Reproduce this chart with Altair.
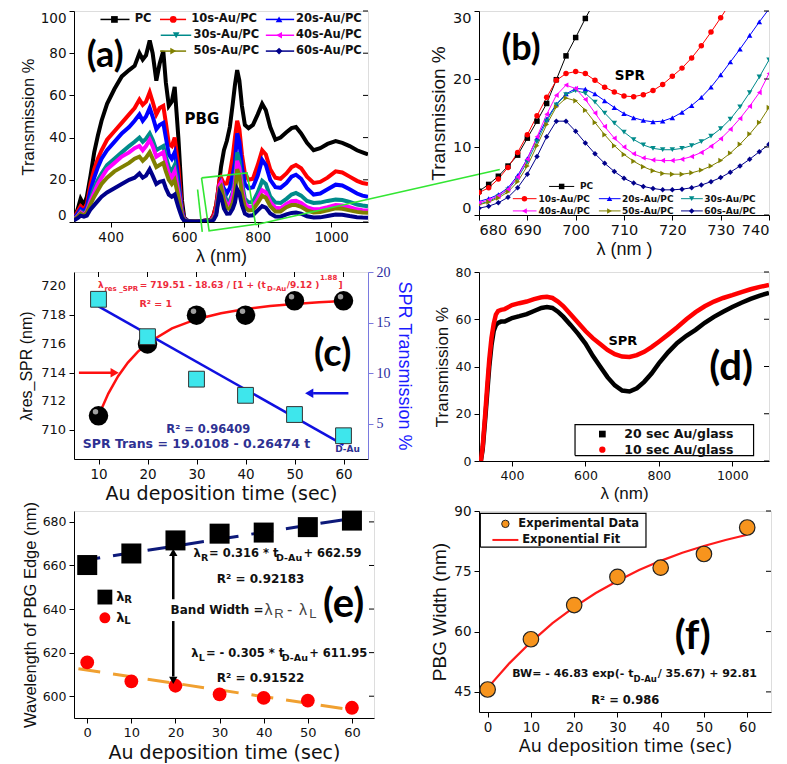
import altair as alt
import pandas as pd

# ---------------- series definitions ----------------
SERIES = ["PC", "10s-Au/PC", "20s-Au/PC", "30s-Au/PC", "40s-Au/PC", "50s-Au/PC", "60s-Au/PC"]
SERIES_COLORS = ["#000000", "#ff0000", "#0000ff", "#008b8b", "#ff00ff", "#808000", "#00008b"]
SERIES_SHAPES = ["square", "circle", "triangle-up", "triangle-down", "triangle-left", "triangle-right", "diamond"]

# ---------------- (a) full spectra ----------------
a_lam = [300, 310, 318, 327, 335, 345, 355, 365, 375, 390, 410, 430, 450, 465, 478, 487, 496, 506, 514, 524,
         533, 543, 550, 558, 566, 574, 579, 584, 589, 594, 600, 610, 630, 650, 665,
         672, 680, 687, 696, 700, 708, 716, 724, 732, 738, 744, 750, 757, 765, 775, 787, 800, 812, 822, 834,
         848, 862, 878, 892, 904, 918, 934, 952, 970, 990, 1012, 1030, 1050, 1070, 1085, 1100]
a_pc = [1.5, 6, 11, 8, 12, 22, 33, 41, 48, 56, 63, 69, 72, 74, 80, 77, 79, 86, 80, 67, 75, 81, 66, 55, 57, 64, 52, 40, 25, 10, 2, 0.5, 0.3, 0.5, 1.0,
        1.0, 3.5, 8.2, 20, 26, 34, 38.5, 45, 56, 65, 72, 67, 55, 46, 44.5, 46, 51, 56, 53, 45, 39, 40, 42.5, 44.5, 45, 42, 37.5, 34, 35, 37, 38.3, 37.5, 36, 34, 33, 32]
a_10 = [1.5, 5, 7.5, 6, 8.5, 18, 25, 30, 34, 39, 43, 47, 51, 54, 58, 55.5, 57, 61.5, 57, 51, 54, 55, 47, 37, 36, 40, 33, 26, 15, 6, 1.5, 0.5, 0.3, 0.5, 0.8,
        0.6, 3.3, 8.1, 19.8, 21.1, 18.1, 18.3, 23.1, 31.2, 40, 48, 44, 32, 23, 20, 20.5, 27, 34, 32, 25, 21, 20.5, 23, 26, 27, 25.5, 21.5, 18.5, 19, 21, 24, 23.5, 21.5, 19.5, 18.5, 18]
a_20 = [1.3, 4, 6, 5, 7, 15, 21, 26, 30, 34, 38, 42, 45, 48, 51, 48, 50, 54, 50, 44, 46, 47, 40, 32, 30, 33, 27, 20, 12, 5, 1.2, 0.5, 0.3, 0.5, 0.7,
        0.5, 2.0, 4.9, 16.3, 18.6, 15.8, 13.7, 16.1, 22.5, 28.4, 42, 38, 26, 18, 16, 16.5, 22, 29.5, 27, 20, 16.5, 16.2, 18.5, 21.5, 22.4, 20.5, 16, 13, 13.5, 15.5, 17.7, 17.3, 15.5, 13.5, 12.5, 12]
a_30 = [1.2, 3, 5, 4, 5.5, 11, 16, 20, 23, 27, 30, 33, 36, 38, 40, 38, 39.5, 42, 39, 34, 35, 36, 31, 26, 24, 27, 22, 16, 10, 4, 1.0, 0.5, 0.3, 0.4, 0.6,
        0.4, 1.6, 4.5, 16.2, 18.3, 13.5, 9.8, 10.2, 14.1, 20.3, 33, 29, 19, 11, 9.3, 9.5, 14, 19.5, 18, 12, 9.2, 9, 11, 13, 13.8, 12.5, 10, 9, 9.2, 10, 10.6, 10.4, 9.5, 8.3, 7.8, 7.5]
a_40 = [1.1, 2.7, 4.5, 3.5, 5, 10, 14, 18, 21, 25, 28, 31, 33, 35, 36, 34, 36, 39, 36, 31, 32, 33, 28, 23, 21, 24, 19, 14, 9, 3.5, 0.9, 0.4, 0.3, 0.4, 0.6,
        0.4, 1.8, 4.7, 17.6, 18.6, 11.3, 8.1, 8.6, 12.6, 18.0, 29, 25.5, 16, 9, 7, 7.3, 11, 15, 14, 9.5, 6.7, 6.5, 8.5, 9.8, 10, 9, 7, 6, 6.2, 7, 8, 7.8, 7, 6, 5.6, 5.5]
a_50 = [1.0, 2.4, 4, 3, 4.5, 8.5, 12, 15, 18, 21, 24, 26, 28, 30, 31, 29, 30.5, 33, 30, 26, 27, 28, 24, 20, 18, 20, 16, 12, 7.5, 3, 0.8, 0.4, 0.3, 0.4, 0.5,
        0.3, 1.5, 4.1, 15.9, 16.8, 10.2, 6.5, 6.2, 9.1, 13.6, 25, 22, 13.5, 7, 5.5, 5.7, 9, 12.5, 11.5, 7.5, 5, 5, 7, 8, 8, 7.2, 5.5, 4.5, 4.7, 5.5, 6.5, 6.3, 5.5, 4.8, 4.5, 4.4]
a_60 = [0.8, 1.8, 3, 2.5, 3, 6, 8, 10, 12, 14, 16, 18, 20, 21, 23, 21, 22, 25, 22, 18, 19, 19.5, 16, 13, 12, 13, 10, 7, 4.5, 2, 0.6, 0.3, 0.2, 0.3, 0.4,
        0.2, 1.0, 3.3, 13.8, 12.3, 6.4, 3.9, 4.0, 6.3, 9.3, 15.5, 13.5, 8, 4, 3, 3.2, 5.5, 7.5, 6.8, 4, 2.6, 2.5, 3.6, 4.3, 4.5, 3.9, 2.7, 2.1, 2.2, 2.8, 3.5, 3.4, 2.8, 2.3, 2.1, 2.0]

# ---------------- (b) zoom on SPR ----------------
b_lam = list(range(680, 741, 2))
b_pc = [3.5, 4.5, 5.7, 7.2, 8.8, 11.3, 13.8, 16.4, 19.9, 23.4, 26.1, 28.9, 31.5] + [None] * 18
b_10 = [3.3, 4.0, 5.3, 7.0, 9.2, 11.8, 14.6, 17.3, 19.8, 20.8, 21.1, 20.8, 19.8, 18.8, 18.1, 17.5, 17.4, 17.7, 18.3,
        19.2, 20.4, 21.6, 23.1, 24.9, 26.9, 29.0, 31.2] + [None] * 4
b_20 = [2.0, 2.4, 3.0, 4.0, 5.8, 8.3, 11.3, 14.1, 16.3, 17.8, 18.6, 18.5, 17.8, 16.8, 15.8, 14.9, 14.3, 13.9, 13.7,
        13.8, 14.3, 15.1, 16.1, 17.3, 18.8, 20.6, 22.5, 24.4, 26.4, 28.4, 30.3]
b_30 = [1.6, 2.0, 2.7, 3.7, 5.4, 7.8, 10.8, 13.8, 16.2, 17.7, 18.3, 17.9, 16.6, 15.0, 13.5, 12.2, 11.1, 10.3, 9.8,
        9.6, 9.6, 9.8, 10.2, 10.8, 11.6, 12.7, 14.1, 15.9, 18.0, 20.3, 22.8]
b_40 = [1.8, 2.2, 2.8, 3.8, 5.6, 8.2, 11.5, 14.8, 17.6, 19.1, 18.6, 17.0, 15.0, 13.0, 11.3, 10.0, 9.0, 8.4, 8.1,
        8.0, 8.0, 8.2, 8.6, 9.2, 10.1, 11.2, 12.6, 14.2, 16.0, 18.0, 20.8]
b_50 = [1.5, 1.9, 2.5, 3.4, 4.9, 7.2, 10.2, 13.3, 15.9, 17.2, 16.8, 15.4, 13.6, 11.8, 10.2, 8.9, 7.9, 7.1, 6.5,
        6.1, 6.0, 6.0, 6.2, 6.6, 7.2, 8.0, 9.1, 10.4, 11.9, 13.6, 15.8]
b_60 = [1.0, 1.3, 1.8, 2.6, 4.0, 6.0, 8.6, 11.5, 13.8, 13.8, 12.3, 10.6, 9.0, 7.6, 6.4, 5.4, 4.7, 4.2, 3.9,
        3.7, 3.7, 3.8, 4.0, 4.4, 4.9, 5.5, 6.3, 7.2, 8.2, 9.3, 10.4]

# ---------------- (c) SPR resonance vs time ----------------
c_time = [10, 20, 30, 40, 50, 60]
c_lam_res = [711, 716, 718, 718, 719, 719]
c_spr_trans = [17.3, 13.6, 9.4, 7.8, 5.9, 3.8]
c_fit_t = [10, 12, 14, 16, 18, 20, 25, 30, 35, 40, 45, 50, 55, 60]
c_fit_lam = [711.0, 712.55, 713.76, 714.7, 715.45, 716.05, 717.08, 717.72, 718.13, 718.42, 718.63, 718.78, 718.9, 718.99]
c_lin_t = [10, 60]
c_lin_trans = [16.6, 2.9]
c_left_ticks = [710, 712, 714, 716, 718, 720]

# ---------------- (d) Au/glass spectra ----------------
d_lam = [315, 320, 327, 333, 338, 344, 350, 356, 362, 370, 380, 400, 420, 440, 460, 480, 495, 510, 525, 540, 560,
         580, 600, 620, 640, 660, 680, 700, 720, 740, 760, 780, 800, 825, 850, 875, 900, 925, 950, 975, 1000,
         1025, 1050, 1075, 1100]
d_10s = [0, 6, 20, 33, 43, 52, 58, 62, 63.5, 64, 64.3, 66, 66.8, 67.5, 68.5, 69.3, 69.5, 69, 67.5, 65.5, 62,
         58.5, 55, 52, 49.5, 47, 45.2, 44.2, 44.0, 44.8, 46.2, 48.2, 50.5, 53.5, 56.6, 60, 63, 65.5, 67.5, 69,
         70.2, 71.5, 72.7, 73.7, 74.5]
d_20s = [0, 5, 18, 30, 40, 49, 55, 57.5, 58.5, 59, 59, 60.5, 61.3, 62.2, 63.5, 64.8, 65.2, 64.8, 63.2, 61, 57.5,
         53.8, 49.7, 44.5, 40, 35.5, 32, 29.8, 29.4, 30.8, 33.5, 37, 41.3, 46, 50, 53, 55.5, 58.5, 61, 63.2,
         65.2, 67, 68.6, 70, 71.2]

# ---------------- (e) PBG edges ----------------
e_time = [0, 10, 20, 30, 40, 50, 60]
e_lam_r = [660.2, 665.5, 671.5, 674.6, 675.1, 677.6, 680.6]
e_lam_l = [615.5, 606.8, 604.8, 600.8, 599.2, 598.0, 594.7]
e_fit_t = [-2, 61]
e_fit_r = [662.0, 681.9]
e_fit_l = [612.6, 593.4]

# ---------------- (f) PBG width ----------------
f_time = [0, 10, 20, 30, 40, 50, 60]
f_width = [45.6, 58.1, 66.6, 73.6, 75.9, 79.3, 85.9]
f_fit_t = [0, 5, 10, 15, 20, 25, 30, 35, 40, 45, 50, 55, 60]
f_fit_w = [46.0, 52.1, 57.4, 62.1, 66.1, 69.6, 72.6, 75.3, 77.6, 79.6, 81.3, 82.8, 84.1]

# ---------------- layout ----------------
WA, HA = 294, 211
WB, HB = 290, 204
WC, HC = 294, 187
WD, HD = 290, 189
WE, HE = 300, 207
WF, HF = 292, 201
COL_SP, ROW_SP = 105, 50
TICK = 5

FB = "DejaVu Sans"
FL = "Liberation Sans"
FTAG = "Lato"
GREEN = "#33e633"


def sc(d0, d1):
    return alt.Scale(domain=[d0, d1], nice=False, zero=False)


def ax(lab_font, lab_size, tit_font, tit_size, **kw):
    base = dict(grid=False, domainColor="#000", domainWidth=1, tickColor="#000", tickWidth=1, tickSize=TICK,
                labelColor="#111", titleColor="#111", labelFont=lab_font, labelFontSize=lab_size,
                titleFont=tit_font, titleFontSize=tit_size, titleFontWeight="normal", labelPadding=3,
                labelOverlap=False, labelSeparation=0, format="d")
    base.update(kw)
    return alt.Axis(**base)


def txt(xs, ys, labels, sx, sy, **kw):
    d = pd.DataFrame({"x": xs, "y": ys, "t": labels})
    return alt.Chart(d).mark_text(**kw).encode(
        x=alt.X("x:Q", scale=sx), y=alt.Y("y:Q", scale=sy), text="t:N")


def seg(x1, y1, x2, y2, sx, sy, **kw):
    d = pd.DataFrame({"x": x1, "y": y1, "x2": x2, "y2": y2})
    return alt.Chart(d).mark_rule(**kw).encode(
        x=alt.X("x:Q", scale=sx), y=alt.Y("y:Q", scale=sy), x2="x2:Q", y2="y2:Q")


def pts(xs, ys, sx, sy, **kw):
    d = pd.DataFrame({"x": xs, "y": ys})
    return alt.Chart(d).mark_point(**kw).encode(
        x=alt.X("x:Q", scale=sx), y=alt.Y("y:Q", scale=sy))


def box(x1, x2, y1, y2, sx, sy):
    d = pd.DataFrame({"x": [x1, x2, x2, x1, x1], "y": [y1, y1, y2, y2, y1], "o": [0, 1, 2, 3, 4]})
    return alt.Chart(d).mark_line(color="#000", strokeWidth=1.2).encode(
        x=alt.X("x:Q", scale=sx), y=alt.Y("y:Q", scale=sy), order="o:Q")


def right_ticks(dom_x, w, yvals, sx, sy):
    x0 = dom_x[1] - (dom_x[1] - dom_x[0]) * TICK / w
    return seg([x0] * len(yvals), yvals, [dom_x[1]] * len(yvals), yvals, sx, sy, color="#000", strokeWidth=1)


def top_ticks(dom_y, h, xvals, sx, sy):
    y0 = dom_y[1] - (dom_y[1] - dom_y[0]) * TICK / h
    return seg(xvals, [y0] * len(xvals), xvals, [dom_y[1]] * len(xvals), sx, sy, color="#000", strokeWidth=1)


COLOR = alt.Color("s:N", scale=alt.Scale(domain=SERIES, range=SERIES_COLORS), legend=None)
SHAPE = alt.Shape("s:N", scale=alt.Scale(domain=SERIES, range=SERIES_SHAPES), legend=None)


def series_legend(sx, sy, ys, x1, x2, xm, xt, font_size, sym_size, lw):
    d = pd.DataFrame({"s": SERIES, "y": ys, "x1": x1, "x2": x2, "xm": xm, "xt": xt})
    base = alt.Chart(d)
    r = base.mark_rule(strokeWidth=lw).encode(
        x=alt.X("x1:Q", scale=sx), x2="x2:Q", y=alt.Y("y:Q", scale=sy), color=COLOR)
    p = base.mark_point(filled=True, size=sym_size, opacity=1).encode(
        x=alt.X("xm:Q", scale=sx), y=alt.Y("y:Q", scale=sy), color=COLOR, shape=SHAPE)
    t = base.mark_text(align="left", baseline="middle", font=FB, fontWeight="bold", fontSize=font_size,
                       color="#111").encode(
        x=alt.X("xt:Q", scale=sx), y=alt.Y("y:Q", scale=sy), text="s:N")
    return [r, p, t]


# ================= panel (a) =================
DXA, DYA = [300, 1100], [0, 100]
SXA, SYA = sc(*DXA), sc(*DYA)
a_yticks = [0, 20, 40, 60, 80, 100]
a_all = [a_pc, a_10, a_20, a_30, a_40, a_50, a_60]
dfa = pd.concat([pd.DataFrame({"x": a_lam, "y": v, "s": n}) for n, v in zip(SERIES, a_all)])
lines_a = alt.Chart(dfa).mark_line(strokeWidth=4, clip=True).encode(
    x=alt.X("x:Q", scale=SXA, axis=ax(FB, 13.5, FL, 18, values=[400, 600, 800, 1000], title="λ (nm)")),
    y=alt.Y("y:Q", scale=SYA, axis=ax(FB, 13.5, FL, 16.5, values=a_yticks, title="Transmission %",
                                         labelFlush=True)),
    color=COLOR)

leg_a = series_legend(SXA, SYA, [96, 96, 96, 88.5, 88.5, 81, 81],
                      [372, 534, 822, 536, 822, 534, 822], [451, 605, 899, 619, 899, 605, 899],
                      [410, 570, 858, 578, 858, 570, 858], [465, 619, 904, 625, 904, 625, 904], 11.5, 45, 1.5)

gbox = pd.DataFrame({"x": [647, 771, 794, 667.6, 647], "y": [20.9, 23.3, -1.1, -4.2, 20.9], "o": [0, 1, 2, 3, 4]})
green_box = alt.Chart(gbox).mark_line(color=GREEN, strokeWidth=1.6).encode(
    x=alt.X("x:Q", scale=SXA), y=alt.Y("y:Q", scale=SYA), order="o:Q")
# end of connector: point (684.3, 6.7) of panel (b), expressed in panel (a) coordinates
col1_w = max(WA, WC, WE)
end_px_x = col1_w + COL_SP + (684.3 - 680) / 60 * WB
end_px_y = (30 - 6.7) / 30 * HB
end_lam = 300 + end_px_x / WA * 800
end_T = 100 - end_px_y / HA * 100
green_lines = seg([636.3, 794], [15.4, -1.3], [649, end_lam], [-4.7, end_T], SXA, SYA, color=GREEN, strokeWidth=1.6)

tag_a = txt([385], [78.9], ["(a)"], SXA, SYA, font=FTAG, fontWeight="bold", fontSize=36)
pbg = txt([648], [48.9], ["PBG"], SXA, SYA, font=FB, fontWeight="bold", fontSize=15)

pa = alt.layer(lines_a, right_ticks(DXA, WA, a_yticks, SXA, SYA), green_box, green_lines, *leg_a,
               tag_a, pbg).properties(width=WA, height=HA)

# ================= panel (b) =================
DXB, DYB = [680, 740], [0, 30]
SXB, SYB = sc(*DXB), sc(*DYB)
b_yticks = [0, 10, 20, 30]
b_all = [b_pc, b_10, b_20, b_30, b_40, b_50, b_60]
dfb = pd.concat([pd.DataFrame({"x": b_lam, "y": v, "s": n}) for n, v in zip(SERIES, b_all)]).dropna()
lines_b = alt.Chart(dfb).mark_line(strokeWidth=1, clip=True).encode(
    x=alt.X("x:Q", scale=SXB, axis=ax(FB, 14.5, FL, 18, values=list(range(680, 741, 10)), title="λ (nm )")),
    y=alt.Y("y:Q", scale=SYB, axis=ax(FB, 14.5, FL, 19, values=b_yticks, title="Transmission %",
                                         labelFlush=True)),
    color=COLOR)
marks_b = alt.Chart(dfb).mark_point(filled=True, size=30, opacity=1, clip=True).encode(
    x=alt.X("x:Q", scale=SXB), y=alt.Y("y:Q", scale=SYB), color=COLOR, shape=SHAPE)
leg_b = series_legend(SXB, SYB, [4.2, 2.4, 2.4, 2.4, 0.6, 0.6, 0.6],
                      [694.5, 687.0, 704.8, 721.8, 687.0, 704.8, 721.8],
                      [699.7, 691.9, 709.3, 726.3, 691.9, 709.3, 726.3],
                      [697.1, 689.4, 707.0, 724.0, 689.4, 707.0, 724.0],
                      [700.9, 692.3, 709.6, 726.6, 692.3, 709.6, 726.6], 9, 30, 1)
tag_b = txt([688.7], [24.4], ["(b)"], SXB, SYB, font=FTAG, fontWeight="bold", fontSize=36)
spr_b = txt([711.2], [20.5], ["SPR"], SXB, SYB, font=FB, fontWeight="bold", fontSize=13.5)
pb = alt.layer(lines_b, marks_b, right_ticks(DXB, WB, b_yticks, SXB, SYB), *leg_b, tag_b,
               spr_b).properties(width=WB, height=HB)

# ================= panel (c) =================
DXC, DYC1 = [5, 65], [708, 721]
SXC, SYC1, SYC2 = sc(*DXC), sc(*DYC1), sc(1.5, 20)
RED_T = "#ee2a3a"
BLUE_T = "#2e3192"
c_axis_left = ax(FB, 13, FL, 16, values=c_left_ticks, title="λres_SPR (nm)", labels=False, titlePadding=34)
c_axis_x = ax(FB, 13.5, FB, 19, values=c_time, title="Au deposition time (sec)")
c_fit = alt.Chart(pd.DataFrame({"x": c_fit_t, "y": c_fit_lam})).mark_line(color="#ff1010", strokeWidth=2.5).encode(
    x=alt.X("x:Q", scale=SXC, axis=c_axis_x),
    y=alt.Y("y:Q", scale=SYC1, axis=c_axis_left))
# tick labels of the left axis, placed just outside the axis line (tick + padding)
c_lab_x = 5 - (TICK + 3) / (WC / 60)
c_left_labels = txt([c_lab_x] * len(c_left_ticks), c_left_ticks, [str(v) for v in c_left_ticks], SXC, SYC1,
                    align="right", baseline="middle", font=FB, fontSize=13, color="#111")
c_balls = pts(c_time, c_lam_res, SXC, SYC1, filled=True, size=380, color="#000", opacity=1, shape="circle")
c_ball_hi = pts(c_time, c_lam_res, SXC, SYC1, filled=True, size=30, color="#b0b0b0", opacity=0.9, shape="circle",
                xOffset=-3, yOffset=-4)
c_red_txt = [
    txt([9.9, 18.4, 48.4, 59.0], [720.1] * 4, ["λ", "= 719.51 - 18.63 / [1 + (t", "/9.12 )", "]"], SXC, SYC1,
        align="left", font=FB, fontWeight="bold", fontSize=9, color=RED_T),
    txt([11.2, 44.4], [719.8, 719.8], ["res _SPR", "D-Au"], SXC, SYC1, align="left", font=FB, fontWeight="bold",
        fontSize=7, color=RED_T),
    txt([55.2], [720.6], ["1.88"], SXC, SYC1, align="left", font=FB, fontWeight="bold", fontSize=7, color=RED_T),
    txt([21.7], [718.8], ["R² = 1"], SXC, SYC1, font=FB, fontWeight="bold", fontSize=9.5, color=RED_T),
]
c_red_arrow = seg([6.0], [714], [12.6], [714], SXC, SYC1, color="#ff1010", strokeWidth=2.5)
c_red_head = pts([13.3], [714], SXC, SYC1, filled=True, size=90, color="#ff1010", opacity=1, shape="triangle-right")
tag_c = txt([57.8], [715.2], ["(c)"], SXC, SYC1, font=FTAG, fontWeight="bold", fontSize=38)
left_c = alt.layer(c_fit, c_left_labels, top_ticks(DYC1, HC, c_time, SXC, SYC1), c_balls, c_ball_hi,
                   *c_red_txt, c_red_arrow, c_red_head, tag_c)

c_lin = alt.Chart(pd.DataFrame({"x": c_lin_t, "y": c_lin_trans})).mark_line(color="#1010e0", strokeWidth=2.5).encode(
    x=alt.X("x:Q", scale=SXC),
    y=alt.Y("y:Q", scale=SYC2, axis=ax("Liberation Serif", 14, FL, 18, values=[5, 10, 15, 20],
                                          title="SPR Transmission %", orient="right", titleColor="#1a1aff",
                                          labelColor="#2a2aa0", domainColor="#7a7adf", tickColor="#7a7adf")))
c_sq = pts(c_time, c_spr_trans, SXC, SYC2, filled=True, size=250, color="#3ee6ec", stroke="#333",
           strokeWidth=1, opacity=1, shape="square")
c_blue_txt = [
    txt([32.4], [4.4], ["R² = 0.96409"], SXC, SYC2, font=FB, fontWeight="bold", fontSize=11.5, color=BLUE_T),
    txt([6.8], [3.0], ["SPR Trans = 19.0108 - 0.26474 t"], SXC, SYC2, align="left", font=FB, fontWeight="bold",
        fontSize=12.5, color=BLUE_T),
    txt([58.3], [2.5], ["D-Au"], SXC, SYC2, align="left", font=FB, fontWeight="bold", fontSize=9, color=BLUE_T),
]
c_blue_arrow = seg([53.8], [8.0], [61.0], [8.0], SXC, SYC2, color="#1010e0", strokeWidth=2.5)
c_blue_head = pts([53.0], [8.0], SXC, SYC2, filled=True, size=90, color="#1010e0", opacity=1, shape="triangle-left")
right_c = alt.layer(c_lin, c_sq, *c_blue_txt, c_blue_arrow, c_blue_head)
pc = alt.layer(left_c, right_c).resolve_scale(y="independent").properties(width=WC, height=HC)

# ================= panel (d) =================
DXD, DYD = [310, 1100], [0, 80]
SXD, SYD = sc(*DXD), sc(*DYD)
d_yticks = [0, 20, 40, 60, 80]
dfd = pd.concat([pd.DataFrame({"x": d_lam, "y": d_20s, "s": "20 sec Au/glass"}),
                 pd.DataFrame({"x": d_lam, "y": d_10s, "s": "10 sec Au/glass"})])
lines_d = alt.Chart(dfd).mark_line(strokeWidth=4.5, clip=True).encode(
    x=alt.X("x:Q", scale=SXD, axis=ax(FB, 12.5, FL, 17, values=[400, 600, 800, 1000], title="λ (nm)")),
    y=alt.Y("y:Q", scale=SYD, axis=ax(FB, 12.5, FL, 17, values=d_yticks, title="Transmission %")),
    color=alt.Color("s:N", scale=alt.Scale(domain=["20 sec Au/glass", "10 sec Au/glass"], range=["#000000", "#ff0000"]),
                    legend=None))
leg_d = [
    box(571.6, 1058, 2.3, 15.4, SXD, SYD),
    pts([646], [11.4], SXD, SYD, filled=True, size=45, color="#000", opacity=1, shape="square"),
    pts([646], [4.8], SXD, SYD, filled=True, size=40, color="#ff0000", opacity=1, shape="circle"),
    txt([706, 706], [11.4, 4.8], ["20 sec Au/glass", "10 sec Au/glass"], SXD, SYD, align="left", font=FB,
        fontWeight="bold", fontSize=12.5, color="#111"),
]
spr_d = txt([702], [50.8], ["SPR"], SXD, SYD, font=FB, fontWeight="bold", fontSize=13)
tag_d = txt([996.7], [39.4], ["(d)"], SXD, SYD, font=FTAG, fontWeight="bold", fontSize=40)
pd_ = alt.layer(lines_d, right_ticks(DXD, WD, d_yticks, SXD, SYD), *leg_d, spr_d,
                tag_d).properties(width=WD, height=HD)

# ================= panel (e) =================
DXE, DYE = [-3, 65], [590, 685]
SXE, SYE = sc(*DXE), sc(*DYE)
e_yticks = [600, 620, 640, 660, 680]
e_fit_r_line = alt.Chart(pd.DataFrame({"x": e_fit_t, "y": e_fit_r})).mark_line(
    color="#0d1a7a", strokeWidth=3, strokeDash=[22, 13]).encode(
    x=alt.X("x:Q", scale=SXE, axis=ax(FB, 13, FB, 19, values=e_time, title="Au deposition time (sec)")),
    y=alt.Y("y:Q", scale=SYE, axis=ax(FB, 12.5, FL, 16.5, values=e_yticks, title="Wavelength of PBG Edge (nm)")))
e_fit_l_line = alt.Chart(pd.DataFrame({"x": e_fit_t, "y": e_fit_l})).mark_line(
    color="#f0a030", strokeWidth=3, strokeDash=[22, 13]).encode(
    x=alt.X("x:Q", scale=SXE), y=alt.Y("y:Q", scale=SYE))
e_sq = pts(e_time, e_lam_r, SXE, SYE, filled=True, size=400, color="#000", opacity=1, shape="square")
e_ci = pts(e_time, e_lam_l, SXE, SYE, filled=True, size=190, color="#ff0000", opacity=1, shape="circle")
e_arrows = [
    seg([19.5, 19.5], [644.5, 634.5], [19.5, 19.5], [664.5, 609.0], SXE, SYE, color="#000", strokeWidth=2.5),
    pts([19.5], [666.0], SXE, SYE, filled=True, size=70, color="#000", opacity=1, shape="triangle-up"),
    pts([19.5], [607.3], SXE, SYE, filled=True, size=70, color="#000", opacity=1, shape="triangle-down"),
]
eb = dict(font=FB, fontWeight="bold", color="#111")
e_txt = [
    txt([24.1, 27.6, 49.0], [665.2] * 3, ["λ", "= 0.316 * t", "+ 662.59"], SXE, SYE, align="left", fontSize=11.5, **eb),
    txt([25.8, 42.8], [663.5] * 2, ["R", "D-Au"], SXE, SYE, align="left", fontSize=9.5, **eb),
    txt([39.3], [653.8], ["R² = 0.92183"], SXE, SYE, fontSize=12, **eb),
    txt([18.9], [639.4], ["Band Width ="], SXE, SYE, align="left", fontSize=12, **eb),
    txt([40.2, 45.3, 48.0], [639.4] * 3, ["λ", "-", "λ"], SXE, SYE, align="left", font=FL, fontSize=16, color="#444"),
    txt([42.4, 50.3], [637.6] * 2, ["R", "L"], SXE, SYE, align="left", font=FL, fontSize=13, color="#444"),
    txt([23.6, 26.9, 50.3], [619.4] * 3, ["λ", "= - 0.305 * t", "+ 611.95"], SXE, SYE, align="left", fontSize=11.5, **eb),
    txt([25.3, 44.1], [617.7] * 2, ["L", "D-Au"], SXE, SYE, align="left", fontSize=9.5, **eb),
    txt([39.3], [608.3], ["R² = 0.91522"], SXE, SYE, fontSize=12, **eb),
    txt([58.1], [641.7], ["(e)"], SXE, SYE, font=FTAG, fontWeight="bold", fontSize=40),
]
e_leg = [
    pts([4.0], [645.5], SXE, SYE, filled=True, size=220, color="#000", opacity=1, shape="square"),
    pts([4.0], [636.0], SXE, SYE, filled=True, size=120, color="#ff0000", opacity=1, shape="circle"),
    txt([6.6, 6.6], [645.5, 636.0], ["λ", "λ"], SXE, SYE, align="left", fontSize=13, **eb),
    txt([8.4, 8.4], [644.0, 634.5], ["R", "L"], SXE, SYE, align="left", fontSize=10, **eb),
]
pe = alt.layer(e_fit_r_line, e_fit_l_line, right_ticks(DXE, WE, e_yticks, SXE, SYE), e_sq, e_ci,
               *e_arrows, *e_txt, *e_leg).properties(width=WE, height=HE)

# ================= panel (f) =================
DXF, DYF = [-2, 65.5], [40, 90]
SXF, SYF = sc(*DXF), sc(*DYF)
f_yticks = [45, 60, 75, 90]
f_line = alt.Chart(pd.DataFrame({"x": f_fit_t, "y": f_fit_w})).mark_line(color="#ff1a1a", strokeWidth=2.2).encode(
    x=alt.X("x:Q", scale=SXF, axis=ax(FB, 13.5, FB, 17.5, values=f_time, title="Au deposition time (sec)")),
    y=alt.Y("y:Q", scale=SYF, axis=ax(FB, 13.5, FL, 19, values=f_yticks, title="PBG Width (nm)")))
f_pts = pts(f_time, f_width, SXF, SYF, filled=True, size=240, color="#f7941d", stroke="#222", strokeWidth=1.2,
            opacity=1, shape="circle")
f_leg = [
    box(-1.7, 36.6, 81.0, 89.4, SXF, SYF),
    pts([4.1], [86.8], SXF, SYF, filled=True, size=55, color="#f7941d", stroke="#222", strokeWidth=1, opacity=1,
        shape="circle"),
    seg([1.1], [82.8], [7.1], [82.8], SXF, SYF, color="#ff1a1a", strokeWidth=2),
    txt([7.1, 8.0], [86.8, 82.8], ["Experimental Data", "Exponential Fit"], SXF, SYF, align="left", fontSize=11.5, **eb),
]
f_txt = [
    txt([5.7, 39.3], [49.5] * 2, ["BW= - 46.83 exp(- t", "/ 35.67)  + 92.81"], SXF, SYF, align="left", fontSize=11, **eb),
    txt([33.7], [48.3], ["D-Au"], SXF, SYF, align="left", fontSize=8.5, **eb),
    txt([31.8], [42.75], ["R² = 0.986"], SXF, SYF, fontSize=11.5, **eb),
    txt([47.4], [58.75], ["(f)"], SXF, SYF, font=FTAG, fontWeight="bold", fontSize=40),
]
pf = alt.layer(f_line, right_ticks(DXF, WF, f_yticks, SXF, SYF), f_pts, *f_leg,
               *f_txt).properties(width=WF, height=HF)

chart = alt.concat(pa, pb, pc, pd_, pe, pf, columns=2,
                   spacing={"row": ROW_SP, "column": COL_SP}, bounds="flush", align="each",
                   padding={"left": 10, "top": 1, "right": 0, "bottom": 0}
                   ).configure_view(stroke="#000", strokeWidth=1).configure(background="white")

chart.save("out.html", embed_options={"renderer": "svg", "actions": False})
